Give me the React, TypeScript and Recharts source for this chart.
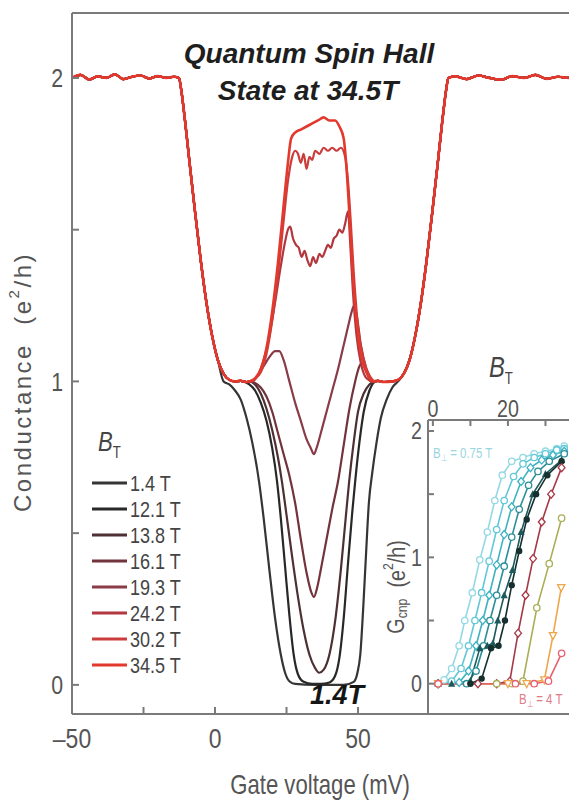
import React from "react";
import { LineChart, Line, XAxis, YAxis, ReferenceLine } from "recharts";

// ---------- main panel: conductance (e^2/h) vs gate voltage (mV) ----------
const fieldLabels = ["1.4 T", "12.1 T", "13.8 T", "16.1 T", "19.3 T", "24.2 T", "30.2 T", "34.5 T"];
const fieldColors = ["#353535", "#282828", "#4e3034", "#73333b", "#8b3b47", "#b2373e", "#cb3d3d", "#e3392d"];

// flanks shared by every trace (the 2 -> 1 step on both sides)
const flankLeftV = [-50, -47, -44, -41, -38, -35, -32, -29, -26, -23, -20, -17, -14.5, -12.6, -11.8, -10.5, -9, -7, -5, -3, -1, 1, 3, 5, 7, 9, 11];
const flankLeftG = [2.0, 2.01, 1.995, 2.005, 2.0, 2.012, 1.996, 2.004, 2.008, 1.998, 2.006, 2.0, 2.004, 2.0, 1.96, 1.86, 1.73, 1.56, 1.4, 1.26, 1.15, 1.07, 1.025, 1.005, 1.0, 1.002, 0.998];
const flankRightV = [55, 57, 59, 62, 64, 66, 68, 70, 72, 74, 76, 78, 79.5, 80.8, 81.6, 84, 88, 92, 96, 100, 104, 108, 112, 116, 120, 124, 128, 132, 136, 140, 143];
const flankRightG = [1.0, 1.002, 0.998, 1.0, 1.005, 1.025, 1.07, 1.15, 1.26, 1.4, 1.56, 1.73, 1.86, 1.96, 2.0, 2.005, 1.996, 2.008, 2.0, 1.994, 2.006, 2.0, 2.01, 1.997, 2.004, 2.0, 2.007, 1.996, 2.003, 2.0, 2.005];

// centre part of each trace
const t14V = [3, 5, 7, 9, 11, 13, 15.4, 17, 19, 21, 23, 24.5, 26, 28, 35, 45, 48.5, 49.8, 50.8, 51.8, 52.8, 53.8, 55, 56.5, 58, 60, 62, 64];
const t14G = [1.0, 0.99, 0.97, 0.94, 0.88, 0.8, 0.67, 0.55, 0.38, 0.22, 0.1, 0.04, 0.012, 0.003, 0.0, 0.0, 0.01, 0.04, 0.1, 0.25, 0.43, 0.6, 0.7, 0.8, 0.88, 0.94, 0.98, 1.0];
const t121V = [10, 12, 14, 16, 18, 20, 21.7, 23, 24.5, 26, 27.5, 29, 31, 34, 37, 40, 42, 43.5, 45, 46.5, 48, 49, 50.5, 52, 54, 56];
const t121G = [1.0, 0.99, 0.97, 0.93, 0.87, 0.78, 0.67, 0.55, 0.39, 0.23, 0.1, 0.035, 0.01, 0.003, 0.003, 0.008, 0.03, 0.09, 0.22, 0.4, 0.57, 0.67, 0.8, 0.9, 0.97, 1.0];
const t138V = [12, 14, 16, 18, 20, 22, 23.4, 25, 27, 29, 31, 33, 35, 36.4, 38, 40, 42, 44, 45.5, 46.9, 48.5, 50, 52, 54, 56];
const t138G = [1.0, 0.99, 0.96, 0.91, 0.84, 0.75, 0.67, 0.56, 0.42, 0.29, 0.18, 0.1, 0.055, 0.04, 0.05, 0.1, 0.21, 0.38, 0.53, 0.67, 0.8, 0.9, 0.96, 0.99, 1.0];
const t161V = [12, 14, 16, 18, 20, 22, 24, 26, 28, 30, 32, 33.5, 34.6, 35.7, 37, 39, 41, 43, 45, 47, 49, 50.5, 51.5, 52.5, 54, 56];
const t161G = [1.0, 0.995, 0.98, 0.95, 0.9, 0.83, 0.76, 0.69, 0.6, 0.48, 0.37, 0.31, 0.29, 0.32, 0.38, 0.48, 0.58, 0.67, 0.79, 0.91, 1.0, 1.05, 1.06, 1.04, 1.01, 1.0];
const t193V = [13, 15, 17, 19, 21, 22.5, 24, 26, 28, 30, 32, 33.5, 34.6, 35.5, 37, 39, 41, 43, 45, 46.5, 47.8, 48.6, 49.5, 51, 53, 55];
const t193G = [1.0, 1.02, 1.05, 1.08, 1.1, 1.1, 1.07, 1.0, 0.93, 0.87, 0.81, 0.78, 0.76, 0.78, 0.83, 0.9, 0.97, 1.04, 1.12, 1.18, 1.23, 1.25, 1.22, 1.12, 1.04, 1.0];
const t242V = [13, 15, 17, 19, 21, 23, 24.5, 25.5, 26.3, 27.3, 28.3, 29.3, 30.3, 31.3, 32.3, 33.3, 34.3, 35.3, 36.5, 37.5, 38.5, 39.5, 40.5, 41.5, 42.5, 43.5, 44.5, 45.5, 46.5, 47.3, 48.2, 49.5, 51, 53, 55];
const t242G = [1.0, 1.02, 1.07, 1.15, 1.26, 1.38, 1.46, 1.5, 1.51, 1.47, 1.45, 1.44, 1.41, 1.43, 1.4, 1.38, 1.41, 1.39, 1.42, 1.41, 1.43, 1.45, 1.44, 1.47, 1.48, 1.5, 1.49, 1.52, 1.56, 1.45, 1.3, 1.15, 1.06, 1.01, 1.0];
const t302V = [12, 14, 16, 18, 20, 22, 24, 25.5, 27, 28, 29, 30, 31, 32, 33, 34, 35, 36.5, 38, 39.5, 41, 42.5, 44, 45.5, 46.5, 47.5, 48.5, 50, 52, 54, 56];
const t302G = [1.0, 1.01, 1.03, 1.09, 1.2, 1.35, 1.53, 1.66, 1.74, 1.76, 1.75, 1.72, 1.75, 1.7, 1.74, 1.73, 1.76, 1.75, 1.77, 1.76, 1.77, 1.76, 1.77, 1.74, 1.66, 1.52, 1.36, 1.18, 1.07, 1.02, 1.0];
const t345V = [12, 14, 16, 18, 20, 22, 24, 25.5, 26.6, 28, 30, 32, 34, 36, 38, 40, 42, 43.5, 45, 46, 47, 48, 49.5, 51, 53, 55];
const t345G = [1.0, 1.01, 1.04, 1.11, 1.23, 1.39, 1.58, 1.72, 1.8, 1.82, 1.83, 1.84, 1.85, 1.86, 1.87, 1.86, 1.86, 1.84, 1.8, 1.7, 1.55, 1.38, 1.2, 1.09, 1.03, 1.0];

const centreV = [t14V, t121V, t138V, t161V, t193V, t242V, t302V, t345V];
const centreG = [t14G, t121G, t138G, t161G, t193G, t242G, t302G, t345G];

const buildTrace = (cv: number[], cg: number[]) => {
  const pts: { v: number; g: number }[] = [];
  flankLeftV.forEach((v, i) => {
    if (v < cv[0]) pts.push({ v, g: flankLeftG[i] });
  });
  cv.forEach((v, i) => pts.push({ v, g: cg[i] }));
  flankRightV.forEach((v, i) => {
    if (v > cv[cv.length - 1]) pts.push({ v, g: flankRightG[i] });
  });
  return pts;
};
const traces = centreV.map((cv, i) => buildTrace(cv, centreG[i]));

// ---------- inset: G_cnp vs B_T for several perpendicular fields ----------
const insetColors = ["#93d9e4", "#62c8d7", "#3db2c0", "#2a8e98", "#1d5a5c", "#15302f", "#a63947", "#a9ae56", "#efa64a", "#e8606e"];
const insetMarkers = ["circle", "circle", "diamond", "circle", "triangle", "dot", "diamond", "circle", "tridown", "circle"];
const s1B = [1.4, 3, 5, 7, 8.5, 10.5, 12.5, 14.5, 16.5, 18.5, 21, 24, 27, 30, 33, 35];
const s1G = [0.0, 0.03, 0.12, 0.3, 0.5, 0.72, 0.98, 1.2, 1.45, 1.65, 1.76, 1.79, 1.82, 1.84, 1.86, 1.88];
const s2B = [1.4, 5, 7.5, 9.5, 11.2, 13, 15, 17, 19, 21.5, 24, 27, 30, 33, 35];
const s2G = [0, 0.02, 0.12, 0.3, 0.5, 0.72, 0.97, 1.22, 1.45, 1.64, 1.74, 1.79, 1.82, 1.85, 1.86];
const s3B = [1.4, 7, 9.5, 11.5, 13.3, 15, 17, 19, 21, 23.5, 26, 29, 32, 35];
const s3G = [0, 0.01, 0.1, 0.3, 0.5, 0.7, 0.94, 1.18, 1.4, 1.6, 1.71, 1.77, 1.81, 1.84];
const s4B = [1.4, 9, 11.5, 13.5, 15.2, 17, 19, 21, 23, 25.5, 28, 31, 35];
const s4G = [0, 0, 0.1, 0.3, 0.5, 0.7, 0.93, 1.16, 1.38, 1.57, 1.68, 1.76, 1.82];
const s5B = [1.4, 5, 10, 12.5, 14.5, 16, 17.3, 19, 21.2, 23.5, 26.6, 30, 34.3];
const s5G = [0, 0, 0.02, 0.28, 0.3, 0.32, 0.5, 0.7, 0.9, 1.2, 1.5, 1.66, 1.77];
const s6B = [1.4, 10, 13, 15.5, 17.5, 19.2, 21, 23, 25, 27.5, 30.5, 34.3];
const s6G = [0, 0, 0.04, 0.28, 0.3, 0.5, 0.78, 1.05, 1.3, 1.5, 1.65, 1.76];
const s7B = [1.4, 12, 17, 20.5, 22.7, 24.7, 26.7, 29, 31.5, 34.3];
const s7G = [0, 0, 0, 0.02, 0.4, 0.7, 0.99, 1.28, 1.5, 1.71];
const s8B = [1.4, 17, 21, 24, 27.7, 31, 34.3];
const s8G = [0, 0, 0, 0.02, 0.6, 0.95, 1.31];
const s9B = [1.4, 20, 25, 29.7, 32, 34.2];
const s9G = [0, 0, 0, 0.03, 0.38, 0.76];
const s10B = [1.4, 22, 27, 30.8, 34.3];
const s10G = [0, 0, 0, 0.02, 0.24];

const insetB = [s1B, s2B, s3B, s4B, s5B, s6B, s7B, s8B, s9B, s10B];
const insetG = [s1G, s2G, s3G, s4G, s5G, s6G, s7G, s8G, s9G, s10G];
const insetSeries = insetB.map((bs, i) => bs.map((b, j) => ({ b, g: insetG[i][j] })));

const SANS = "'Liberation Sans', Arial, sans-serif";
const AXIS = "#7a7a7a";
const LABEL = "#555";

// condensed look: Liberation Sans squeezed horizontally
const Narrow = ({ x, y, size, fill = LABEL, anchor = "start", baseline, italic, children }: any) => (
  <text
    transform={`translate(${x} ${y}) scale(0.82 1)`}
    textAnchor={anchor}
    dominantBaseline={baseline}
    fontFamily={SANS}
    fontStyle={italic ? "italic" : undefined}
    fontSize={size}
    fill={fill}
  >
    {children}
  </text>
);

const MainYTick = (p: any) => {
  const v = p.payload.value;
  return (
    <g>
      <line x1={p.x} x2={p.x + 7} y1={p.y} y2={p.y} stroke={AXIS} strokeWidth={2} />
      {Number.isInteger(v) && (
        <Narrow x={p.x - 9} y={p.y} anchor="end" baseline="central" size={26}>
          {v}
        </Narrow>
      )}
    </g>
  );
};

const MainXTick = (p: any) => {
  const v = p.payload.value;
  return (
    <g>
      <line x1={p.x} x2={p.x} y1={p.y} y2={p.y - 7} stroke={AXIS} strokeWidth={2} />
      {v % 50 === 0 && (
        <Narrow x={p.x} y={p.y + 34} anchor="middle" size={28}>
          {v < 0 ? `\u2013${-v}` : v}
        </Narrow>
      )}
    </g>
  );
};

const InsetYTick = (p: any) => {
  const v = p.payload.value;
  return (
    <g>
      <line x1={p.x} x2={p.x + 6} y1={p.y} y2={p.y} stroke={AXIS} strokeWidth={2} />
      {Number.isInteger(v) && (
        <Narrow x={p.x - 6} y={p.y} anchor="end" baseline="central" size={24}>
          {v}
        </Narrow>
      )}
    </g>
  );
};

const InsetXTick = (p: any) => {
  const v = p.payload.value;
  return (
    <g>
      <line x1={p.x} x2={p.x} y1={p.y} y2={p.y + 6} stroke={AXIS} strokeWidth={2} />
      {v % 20 === 0 && (
        <Narrow x={p.x} y={p.y - 3} anchor="middle" size={24}>
          {v}
        </Narrow>
      )}
    </g>
  );
};

const markerDot = (shape: string, color: string) => (p: any) => {
  const { cx, cy, index } = p;
  if (cx == null || cy == null) return <g key={index} />;
  if (shape === "triangle")
    return <polygon key={index} points={`${cx},${cy - 4} ${cx - 3.6},${cy + 3} ${cx + 3.6},${cy + 3}`} fill={color} />;
  if (shape === "tridown")
    return <polygon key={index} points={`${cx},${cy + 4} ${cx - 3.6},${cy - 3} ${cx + 3.6},${cy - 3}`} fill="#fff" stroke={color} strokeWidth={1.3} />;
  if (shape === "diamond")
    return <polygon key={index} points={`${cx},${cy - 4} ${cx + 3.4},${cy} ${cx},${cy + 4} ${cx - 3.4},${cy}`} fill="#fff" stroke={color} strokeWidth={1.3} />;
  if (shape === "dot") return <circle key={index} cx={cx} cy={cy} r={3.2} fill={color} />;
  return <circle key={index} cx={cx} cy={cy} r={3.2} fill="#fff" stroke={color} strokeWidth={1.3} />;
};

export default function App() {
  return (
    <div style={{ position: "absolute", left: 0, top: 0, width: 569, height: 800, overflow: "hidden", background: "#fff" }}>
      {/* main chart */}
      <div style={{ position: "absolute", left: 0, top: 0 }}>
        <LineChart width={620} height={800} margin={{ top: 13, right: 0, bottom: 0, left: 0 }}>
          <XAxis
            type="number"
            dataKey="v"
            domain={[-50, 141.6]}
            ticks={[-50, -25, 0, 25, 50]}
            allowDataOverflow
            height={86}
            tickSize={0}
            tickMargin={0}
            tickLine={false}
            axisLine={{ stroke: AXIS, strokeWidth: 2 }}
            tick={(p: any) => <MainXTick {...p} />}
          />
          <YAxis
            type="number"
            domain={[-0.096, 2.214]}
            ticks={[0, 0.5, 1, 1.5, 2]}
            allowDataOverflow
            width={72}
            tickSize={0}
            tickMargin={0}
            tickLine={false}
            axisLine={{ stroke: AXIS, strokeWidth: 2 }}
            tick={(p: any) => <MainYTick {...p} />}
          />
          <ReferenceLine y={2.214} stroke={AXIS} strokeWidth={2} ifOverflow="visible" />
          {traces.map((d, i) => (
            <Line
              key={fieldLabels[i]}
              data={d}
              dataKey="g"
              type="monotone"
              stroke={fieldColors[i]}
              strokeWidth={i === 7 ? 2.6 : 2.2}
              dot={false}
              isAnimationActive={false}
            />
          ))}
        </LineChart>
      </div>

      {/* inset background */}
      <div style={{ position: "absolute", left: 429, top: 421, width: 160, height: 292, background: "#fff" }} />

      {/* inset chart */}
      <div style={{ position: "absolute", left: 380, top: 340 }}>
        <LineChart width={200} height={376} margin={{ top: 0, right: 0, bottom: 2, left: 0 }}>
          <XAxis
            type="number"
            dataKey="b"
            orientation="top"
            domain={[-1.3, 39.2]}
            ticks={[0, 10, 20, 30]}
            allowDataOverflow
            height={80}
            tickSize={0}
            tickMargin={0}
            tickLine={false}
            axisLine={{ stroke: AXIS, strokeWidth: 2 }}
            tick={(p: any) => <InsetXTick {...p} />}
          />
          <YAxis
            type="number"
            domain={[-0.24, 2.087]}
            ticks={[0, 0.5, 1, 1.5, 2]}
            allowDataOverflow
            width={48}
            tickSize={0}
            tickMargin={0}
            tickLine={false}
            axisLine={{ stroke: AXIS, strokeWidth: 2 }}
            tick={(p: any) => <InsetYTick {...p} />}
          />
          {insetSeries.map((d, i) => (
            <Line
              key={`s${i}`}
              data={d}
              dataKey="g"
              type="linear"
              stroke={insetColors[i]}
              strokeWidth={1.6}
              dot={markerDot(insetMarkers[i], insetColors[i])}
              isAnimationActive={false}
            />
          ))}
        </LineChart>
      </div>

      {/* text layer */}
      <svg width={569} height={800} style={{ position: "absolute", left: 0, top: 0, pointerEvents: "none" }}>
        <g fontFamily={SANS} fontWeight="bold" fontStyle="italic" fontSize={28} fill="#1e1e1e" textAnchor="middle">
          <text x={309} y={63}>Quantum Spin Hall</text>
          <text x={308} y={100}>State at 34.5T</text>
        </g>
        <text x={337} y={704} fontFamily={SANS} fontWeight="bold" fontStyle="italic" fontSize={27} fill="#151515" textAnchor="middle">
          1.4T
        </text>

        <text
          x={22}
          y={382}
          transform="rotate(-90 22 382)"
          textAnchor="middle"
          dominantBaseline="central"
          fontFamily={SANS}
          fontSize={24}
          letterSpacing={2.5}
          fill={LABEL}
        >
          Conductance{"\u00a0\u00a0"}(e<tspan fontSize={15} dy={-9}>2</tspan>
          <tspan dy={9}>/h)</tspan>
        </text>
        <Narrow x={320} y={794} anchor="middle" size={27}>
          Gate voltage (mV)
        </Narrow>

        {/* legend */}
        <Narrow x={98} y={451} size={27} italic fill="#444">
          B<tspan fontSize={16} fontStyle="normal" dy={7}>T</tspan>
        </Narrow>
        {fieldLabels.map((lab, i) => (
          <g key={lab}>
            <line x1={92} x2={127} y1={483 + 26 * i} y2={483 + 26 * i} stroke={fieldColors[i]} strokeWidth={3} />
            <Narrow x={130} y={483 + 26 * i} baseline="central" size={22} fill="#444">
              {lab}
            </Narrow>
          </g>
        ))}

        {/* inset labels */}
        <Narrow x={489} y={377} size={29} italic fill="#444">
          B<tspan fontSize={16} fontStyle="normal" dy={7}>T</tspan>
        </Narrow>
        <g transform="rotate(-90 396 587)">
          <Narrow x={396} y={587} anchor="middle" baseline="central" size={24}>
            G<tspan fontSize={15} dy={6}>cnp</tspan>
            <tspan dy={-6}>{"\u00a0\u00a0"}(e</tspan>
            <tspan fontSize={15} dy={-8}>2</tspan>
            <tspan dy={8}>/h)</tspan>
          </Narrow>
        </g>
        <Narrow x={433} y={458} size={14} fill="#9ad6e0">
          B<tspan fontSize={9} dy={3}>⊥</tspan>
          <tspan dy={-3}> = 0.75 T</tspan>
        </Narrow>
        <Narrow x={519} y={704} size={14} fill="#e27a86">
          B<tspan fontSize={9} dy={3}>⊥</tspan>
          <tspan dy={-3}> = 4 T</tspan>
        </Narrow>
      </svg>
    </div>
  );
}
